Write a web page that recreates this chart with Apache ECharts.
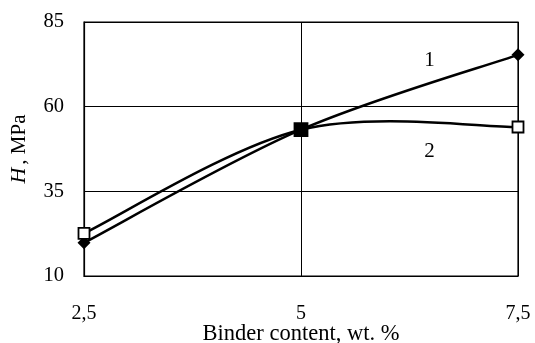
<!DOCTYPE html>
<html>
<head>
<meta charset="utf-8">
<script src="https://cdn.jsdelivr.net/npm/echarts@6/dist/echarts.min.js"></script>
<style>
html,body{margin:0;padding:0;background:#fff;}
#c{width:535px;height:343px;}
</style>
</head>
<body>
<div id="c"></div>
<script>
const binder = [2.5, 5, 7.5];
const series1 = [19.8, 53.2, 75.3];
const series2 = [22.6, 53.2, 54.0];
const curveLabels = ['1', '2'];
const curveLabelX = [6.48, 6.48];
const curveLabelY = [73.5, 46.7];
const yTicks = [10, 35, 60, 85];

const FONT = '"Liberation Serif", "DejaVu Serif", serif';
const chart = echarts.init(document.getElementById('c'));

function fmt(v){ return String(v).replace('.', ','); }

// Smooth (Excel-like) curve drawn segment by segment through the axis scales
function curveSeries(values, z) {
  return {
    type: 'custom',
    z: z,
    data: binder.map((x, i) => [x, values[i]]),
    encode: { x: 0, y: 1 },
    renderItem: function (params, api) {
      const i = params.dataIndex;
      const n = binder.length;
      if (i >= n - 1) return null;
      const P = binder.map((x, k) => api.coord([x, values[k]]));
      const tan = (k) => {
        const a = P[Math.max(k - 1, 0)], b = P[Math.min(k + 1, n - 1)];
        return [(b[0] - a[0]) / 6, (b[1] - a[1]) / 6];
      };
      const t0 = tan(i), t1 = tan(i + 1);
      return {
        type: 'bezierCurve',
        shape: {
          x1: P[i][0], y1: P[i][1],
          cpx1: P[i][0] + t0[0], cpy1: P[i][1] + t0[1],
          cpx2: P[i + 1][0] - t1[0], cpy2: P[i + 1][1] - t1[1],
          x2: P[i + 1][0], y2: P[i + 1][1]
        },
        style: { stroke: '#000', lineWidth: 2.5, fill: null }
      };
    }
  };
}

const labelStyle = { show: true, position: 'inside', color: '#000', fontFamily: FONT, fontSize: 21 };

chart.setOption({
  animation: false,
  backgroundColor: '#fff',
  grid: { left: 84, right: 17, top: 22, bottom: 67, containLabel: false, outerBoundsMode: 'none',
          show: true, borderColor: '#000', borderWidth: 1.2 },
  xAxis: {
    type: 'value', min: binder[0], max: binder[binder.length-1], interval: 2.5,
    axisLine: { show: true, lineStyle: { color: '#000', width: 1.2 } },
    axisTick: { show: false },
    splitLine: { show: true, lineStyle: { color: '#000', width: 1 } },
    axisLabel: { color: '#000', fontFamily: FONT, fontSize: 20, margin: 28, formatter: fmt },
    name: 'Binder content, wt. %',
    nameLocation: 'middle', nameGap: 47, nameMoveOverlap: false,
    nameTextStyle: { color: '#000', fontFamily: FONT, fontSize: 22.5 }
  },
  yAxis: {
    type: 'value', min: yTicks[0], max: yTicks[yTicks.length-1], interval: 25,
    axisLine: { show: true, lineStyle: { color: '#000', width: 1.2 } },
    axisTick: { show: false },
    splitLine: { show: true, lineStyle: { color: '#000', width: 1 } },
    axisLabel: { color: '#000', fontFamily: FONT, fontSize: 20.5, margin: 20 },
    name: '{i|H}{n|, MPa}',
    nameLocation: 'middle', nameGap: 54, nameRotate: 90, nameMoveOverlap: false,
    nameTextStyle: {
      color: '#000', fontFamily: FONT, fontSize: 21,
      rich: {
        i: { fontStyle: 'italic', fontFamily: FONT, fontSize: 22, color: '#000', padding: [0, 3, 0, 0] },
        n: { fontFamily: FONT, fontSize: 21, color: '#000' }
      }
    }
  },
  series: [
    curveSeries(series1, 2),
    curveSeries(series2, 2),
    {
      type: 'scatter', z: 3,
      data: binder.map((x, i) => [x, series1[i]]),
      symbol: 'diamond', symbolSize: 13,
      itemStyle: { color: '#000', opacity: 1 },
      markPoint: {
        symbol: 'circle', symbolSize: 1,
        itemStyle: { color: 'rgba(0,0,0,0)' },
        label: labelStyle,
        data: [{ coord: [curveLabelX[0], curveLabelY[0]], value: curveLabels[0] }]
      }
    },
    {
      type: 'scatter', z: 4,
      data: binder.map((x, i) => ({
        value: [x, series2[i]],
        symbolSize: i === 1 ? 13 : 11,
        itemStyle: i === 1 ? { color: '#000' } : undefined
      })),
      symbol: 'rect', symbolSize: 11,
      itemStyle: { color: '#fff', borderColor: '#000', borderWidth: 1.8, opacity: 1 },
      markPoint: {
        symbol: 'circle', symbolSize: 1,
        itemStyle: { color: 'rgba(0,0,0,0)' },
        label: labelStyle,
        data: [{ coord: [curveLabelX[1], curveLabelY[1]], value: curveLabels[1] }]
      }
    }
  ]
});
</script>
</body>
</html>
